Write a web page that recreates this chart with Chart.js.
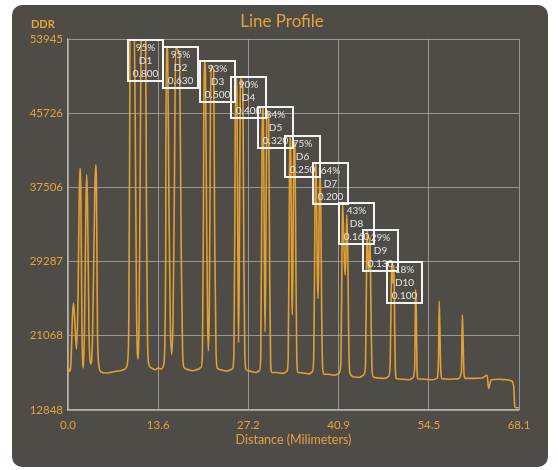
<!DOCTYPE html>
<html>
<head>
<meta charset="utf-8">
<script src="https://cdn.jsdelivr.net/npm/chart.js@4.4.1/dist/chart.umd.min.js"></script>
<style>
  html, body { margin: 0; padding: 0; background: #ffffff; }
  #card { position: absolute; left: 12px; top: 5px; width: 536px; height: 462px;
          background: #4f4c48; border-radius: 10px; overflow: hidden; }
  canvas { display: block; }
</style>
</head>
<body>
<div id="card"><canvas id="c" width="536" height="462"></canvas></div>
<script>
// ---- data ----
const distanceMm = [
  0.05,0.23,0.45,0.68,0.83,0.98,1.28,1.51,1.71,1.81,1.93,2.11,2.31,2.49,2.72,2.82,2.94,3.17,3.43,3.70,
  4.05,4.18,4.30,4.45,4.68,4.98,5.74,6.64,7.55,8.46,8.83,9.03,
  9.18,9.30,9.38,9.95,10.15,10.35,10.55,10.75,10.95,11.10,11.70,11.85,12.00,12.20,
  12.6,13.2,13.6,14.1,14.45,14.6,
  14.75,14.85,15.05,15.25,15.45,15.65,15.85,16.05,16.25,16.85,17.1,17.3,17.5,
  18.0,18.8,19.6,20.1,20.3,
  20.45,20.55,20.75,20.95,21.1,21.2,21.35,21.5,21.6,22.0,22.15,22.35,22.55,
  23.1,24.0,24.8,25.05,
  25.2,25.3,25.5,25.65,25.75,25.85,26.0,26.1,26.4,26.55,26.7,26.9,
  27.5,28.3,28.9,29.1,
  29.25,29.35,29.5,29.65,29.75,29.85,30.0,30.1,30.3,30.45,30.6,30.8,
  31.5,32.4,33.0,33.25,
  33.4,33.5,33.65,33.8,33.87,33.95,34.1,34.25,34.4,34.55,34.75,
  35.5,36.4,36.9,37.1,
  37.25,37.35,37.5,37.65,37.75,37.85,38.0,38.15,38.3,38.45,38.65,
  39.3,40.2,40.9,41.2,
  41.35,41.45,41.6,41.75,41.85,41.95,42.1,42.25,42.4,42.55,
  43.2,44.0,44.6,44.9,
  45.05,45.15,45.3,45.4,45.5,45.6,45.75,45.9,46.1,
  46.8,47.7,48.4,48.65,
  48.8,48.88,48.98,49.05,49.12,49.2,49.3,49.42,49.6,
  50.5,51.5,52.05,
  52.35,52.45,52.5,52.6,52.7,52.85,
  53.8,55.0,55.7,55.95,
  56.05,56.15,56.3,56.5,
  57.5,58.8,59.4,
  59.55,59.65,59.8,60.0,
  61.0,62.5,63.3,63.5,63.65,63.9,65.0,66.2,66.9,67.3,67.45,67.6,68.1
];
const ddrValues = [
  17500,17113,18165,23371,24700,23371,19605,25033,37217,39600,37217,21710,17500,21710,36110,38934,36110,21710,17943,20602,
  37217,39987,37217,21710,17722,17057,16946,17057,17168,17334,17611,18387,
  22800,40000,57000,57000,45000,24000,18500,24000,45000,57000,57000,35000,21000,17900,
  17500,17300,17500,17400,17900,19500,
  30000,53100,52500,35000,22500,19000,22500,36000,52900,52000,30000,19500,17600,
  17350,17200,17350,17600,19000,
  35000,51500,50500,32000,22000,19400,25000,45000,51000,50500,32000,19500,17500,
  17300,17150,17400,19000,
  35000,49700,48500,30000,20300,27000,47000,49500,48500,30000,19000,17300,
  17150,17000,17200,18500,
  35000,46400,45500,30000,21500,28000,45000,46000,45000,28000,18000,17000,
  17000,16900,17100,18500,
  33000,43200,41000,26000,23400,28000,42000,42500,30000,18500,17000,
  16950,16850,17100,18500,
  30000,40200,38000,28000,25200,29000,39000,37000,24000,17500,16800,
  16800,16700,16900,18000,
  28000,35700,33000,29000,27800,29500,34500,30000,20000,17000,
  16500,16450,16700,17500,
  26000,32800,29800,28200,29800,32000,24000,17500,16500,
  16400,16350,16550,18000,
  26000,29270,27500,26900,27800,28900,24000,17500,16300,
  16250,16200,16400,
  17500,24000,26200,23000,17500,16300,
  16250,16200,16350,18500,
  24900,22000,17000,16300,
  16250,16300,17000,
  23400,21000,16800,16350,
  16350,16400,16700,15200,15600,16200,16250,16200,16100,15500,13300,13100,13100
];
const xTicks = [0, 13.62, 27.24, 40.86, 54.48, 68.1];
const yTicks = [12848, 21068, 29287, 37506, 45726, 53945];

const groupNames   = ['D1','D2','D3','D4','D5','D6','D7','D8','D9','D10'];
const groupPercent = ['95%','95%','93%','90%','84%','75%','64%','43%','29%','18%'];
const groupWire    = ['0.800','0.630','0.500','0.400','0.320','0.250','0.200','0.160','0.130','0.100'];
const groupX       = [9.01, 14.39, 19.93, 24.61, 28.74, 32.81, 37.0, 40.97, 44.5, 48.12];
const groupPeak    = [53834, 53090, 51540, 49700, 46444, 43199, 40241, 35744, 32787, 29275];

const ORANGE = '#e6a23a';
const GRID = 'rgba(175,173,170,0.75)';

const overlay = {
  id: 'overlay',
  afterDatasetsDraw(chart) {
    const ctx = chart.ctx;
    const xs = chart.scales.x, ys = chart.scales.y;
    ctx.save();
    // boxes
    for (let i = 0; i < groupNames.length; i++) {
      const px = Math.round(xs.getPixelForValue(groupX[i]));
      const py = Math.round(ys.getPixelForValue(groupPeak[i]));
      ctx.strokeStyle = 'rgba(255,255,255,0.93)';
      ctx.lineWidth = 2;
      ctx.strokeRect(px, py, 35, 41);
      ctx.fillStyle = '#e4e4e4';
      ctx.font = '10px Lato';
      ctx.textAlign = 'center';
      ctx.textBaseline = 'middle';
      ctx.fillText(groupPercent[i], px + 17.5, py + 7.5);
      ctx.fillText(groupNames[i], px + 17.5, py + 21);
      ctx.fillText(groupWire[i], px + 17.5, py + 34);
    }
    // title
    ctx.fillStyle = ORANGE;
    ctx.font = '17px Lato';
    ctx.textAlign = 'center';
    ctx.textBaseline = 'middle';
    ctx.fillText('Line Profile', 270, 17);
    // DDR label
    ctx.font = 'bold 11px Lato';
    ctx.textAlign = 'left';
    ctx.fillText('DDR', 19, 19);
    ctx.restore();
  }
};

new Chart(document.getElementById('c'), {
  type: 'line',
  data: {
    datasets: [{
      data: distanceMm.map((x, i) => ({ x: x, y: ddrValues[i] })),
      borderColor: '#e1a033',
      borderWidth: 1.6,
      pointRadius: 0,
      fill: false,
      cubicInterpolationMode: 'monotone'
    }]
  },
  options: {
    responsive: false,
    animation: false,
    layout: { padding: { top: 34, right: 29, left: 0, bottom: 0 } },
    plugins: { legend: { display: false }, tooltip: { enabled: false }, title: { display: false } },
    scales: {
      x: {
        type: 'linear', min: 0, max: 68.1,
        afterBuildTicks: (s) => { s.ticks = xTicks.map(v => ({ value: v })); },
        afterFit: (s) => { s.height = 57; },
        ticks: { autoSkip: false, maxRotation: 0, padding: 8, color: ORANGE,
                 font: { family: 'Lato', size: 11.5 }, callback: (v) => Number(v).toFixed(1) },
        grid: { color: GRID, drawTicks: false, lineWidth: 1 },
        border: { display: true, color: 'rgba(190,188,185,0.9)', width: 1.2 },
        title: { display: true, text: 'Distance (Milimeters)', color: ORANGE,
                 font: { family: 'Lato', size: 12.5 }, padding: { top: 0, bottom: 20 } }
      },
      y: {
        type: 'linear', min: 12848, max: 53945,
        afterBuildTicks: (s) => { s.ticks = yTicks.map(v => ({ value: v })); },
        afterFit: (s) => { s.width = 56; },
        ticks: { autoSkip: false, padding: 5, color: ORANGE,
                 font: { family: 'Lato', size: 11.5 }, callback: (v) => String(v) },
        grid: { color: GRID, drawTicks: false, lineWidth: 1 },
        border: { display: true, color: 'rgba(190,188,185,0.9)', width: 1.2 }
      }
    }
  },
  plugins: [overlay]
});
</script>
</body>
</html>
